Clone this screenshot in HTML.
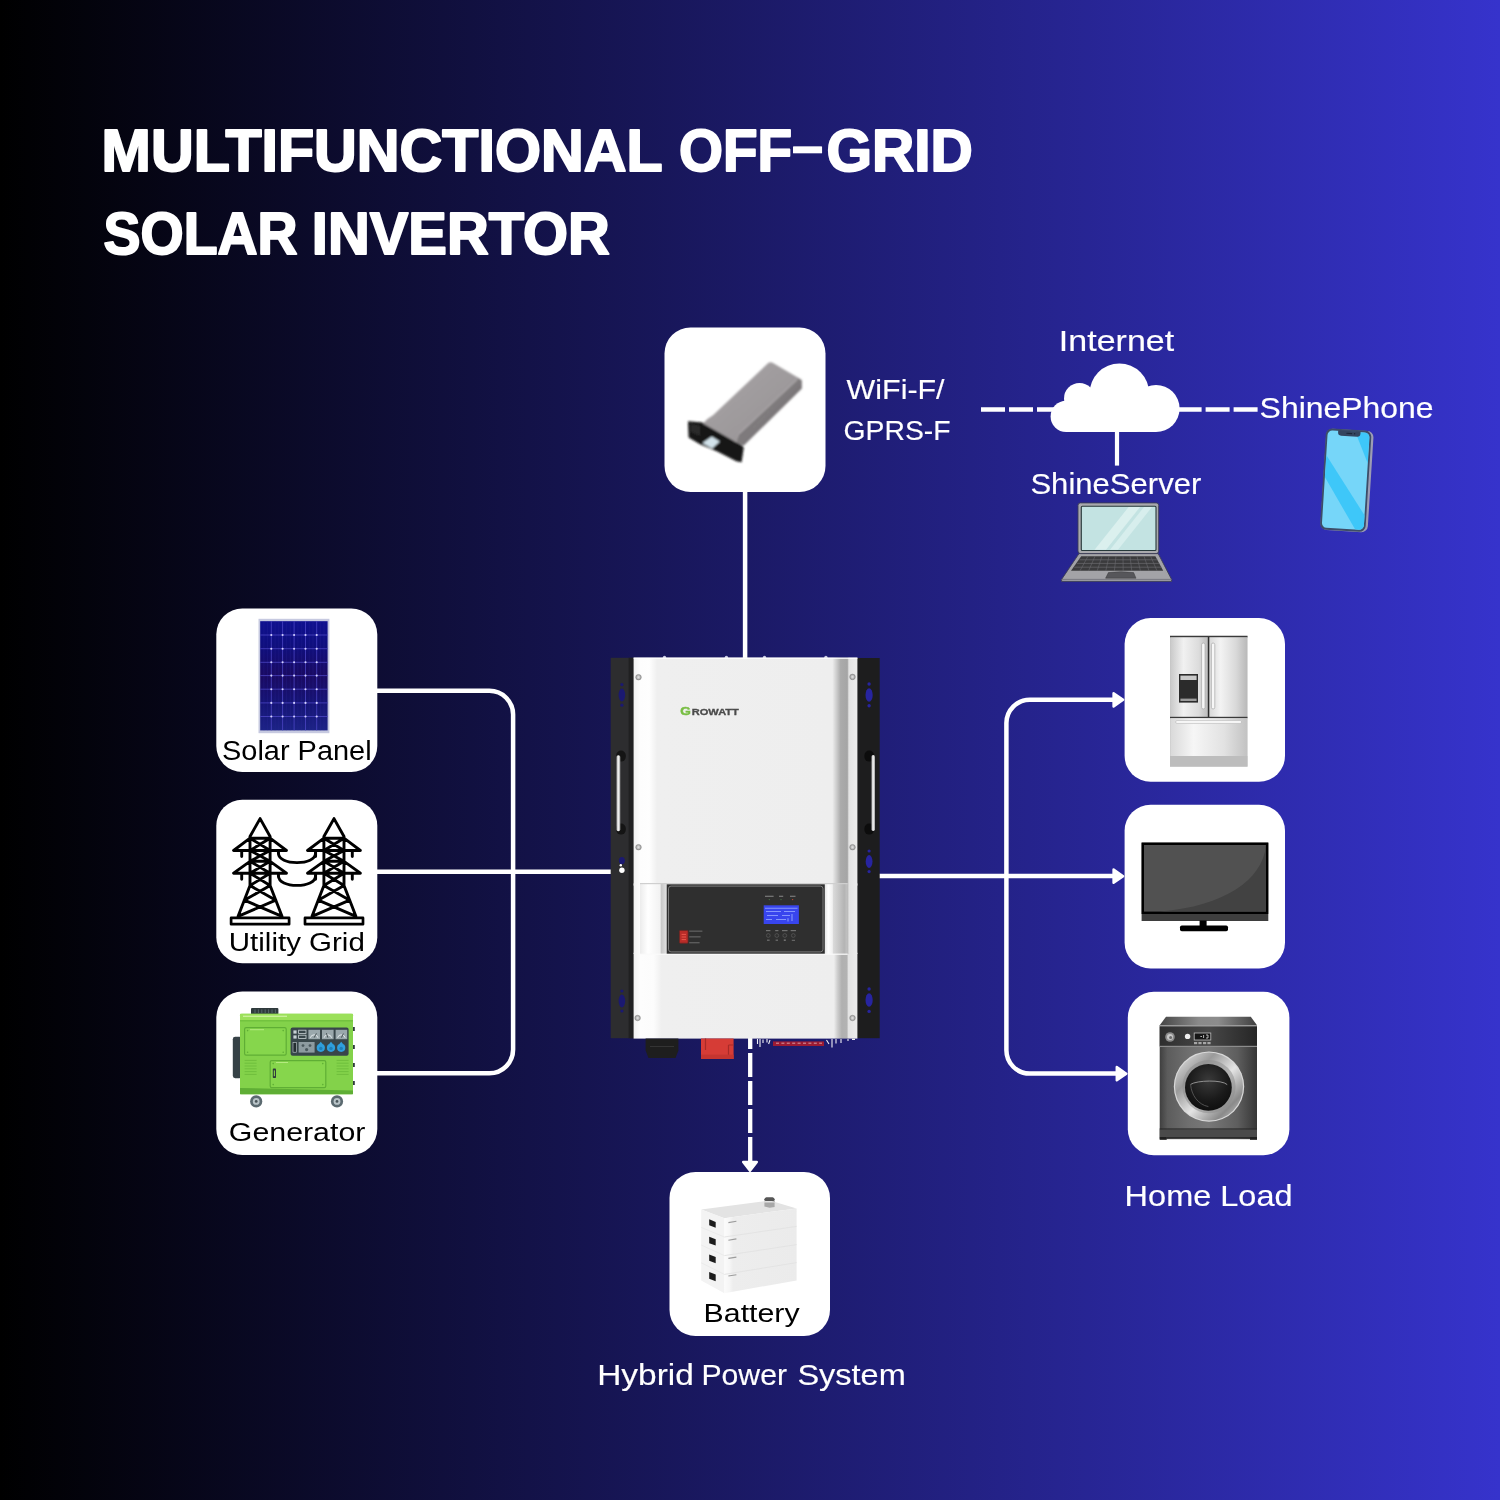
<!DOCTYPE html>
<html lang="en">
<head>
<meta charset="utf-8">
<title>Multifunctional Off-Grid Solar Invertor</title>
<style>
  html, body { margin: 0; padding: 0; }
  body { width: 1500px; height: 1500px; overflow: hidden; background: #1b1966; }
  #stage {
    position: relative; width: 1500px; height: 1500px; overflow: hidden;
    background: linear-gradient(90deg, #000000 0%, #3633cc 100%);
    font-family: "Liberation Sans", sans-serif;
  }
  svg { position: absolute; left: 0; top: 0; display: block; will-change: transform; }
  .h1 { font-family: "Liberation Sans", sans-serif; font-weight: 700; fill: #ffffff; stroke: #ffffff; stroke-width: 2; stroke-linejoin: round; }
  .lw { font-family: "Liberation Sans", sans-serif; font-weight: 400; fill: #ffffff; stroke: #ffffff; stroke-width: 0.15; }
  .lb { font-family: "Liberation Sans", sans-serif; font-weight: 400; fill: #000000;  }
  .ln { fill: none; stroke: #ffffff; stroke-width: 4.5; }
  .card { fill: #ffffff; }
</style>
</head>
<body>
<div id="stage">
<svg width="1500" height="1500" viewBox="0 0 1500 1500">

  <!-- ============ TITLE ============ -->
  <g id="title">
    <text class="h1" x="101.6" y="170.8" font-size="58.6" textLength="561" lengthAdjust="spacingAndGlyphs">MULTIFUNCTIONAL</text>
    <text class="h1" x="679" y="170.8" font-size="58.6" textLength="113" lengthAdjust="spacingAndGlyphs">OFF</text>
    <text class="h1" x="789.2" y="163.4" font-size="52" textLength="36.7" lengthAdjust="spacingAndGlyphs" style="stroke-width:0.5">-</text>
    <text class="h1" x="826.4" y="170.8" font-size="58.6" textLength="146.4" lengthAdjust="spacingAndGlyphs">GRID</text>
    <text class="h1" x="103.6" y="254.4" font-size="58.6" textLength="194" lengthAdjust="spacingAndGlyphs">SOLAR</text>
    <text class="h1" x="311.8" y="254.4" font-size="58.6" textLength="298" lengthAdjust="spacingAndGlyphs">INVERTOR</text>
  </g>

  <!-- ============ CONNECTOR LINES ============ -->
  <g id="lines">
    <!-- dongle to inverter -->
    <path class="ln" d="M745.1 490 V660"/>
    <!-- wifi dashed to cloud -->
    <path class="ln" d="M981 409.5 H1060" stroke-dasharray="24 4"/>
    <path class="ln" d="M1177.6 409.5 H1257.6" stroke-dasharray="24 4"/>
    <!-- cloud to server -->
    <path class="ln" d="M1117 425 V465.6" style="stroke-width:4.2"/>
    <!-- left bracket -->
    <path class="ln" d="M376 690.8 H489.4 A23.7 23.7 0 0 1 513.1 714.5 V1049.6 A23.7 23.7 0 0 1 489.4 1073.3 H376"/>
    <path class="ln" d="M376 871.8 H612"/>
    <!-- right bracket -->
    <path class="ln" d="M878 876.1 H1114"/>
    <path class="ln" d="M1114 699.7 H1029.8 A23.4 23.4 0 0 0 1006.4 723.1 V1050.2 A23.4 23.4 0 0 0 1029.8 1073.6 H1117"/>
    <!-- battery dashed -->
    <path class="ln" d="M750.2 1025 V1161" stroke-dasharray="24 4" style="stroke-width:4.3"/>
  </g>
  <g id="arrows" fill="#ffffff" stroke="#ffffff" stroke-width="2.5" stroke-linejoin="round">
    <path d="M1113.6 693.2 L1123.1 699.85 L1113.6 706.5 Z"/>
    <path d="M1113.6 869.5 L1123.1 876.15 L1113.6 882.8 Z"/>
    <path d="M1116.8 1067 L1126.3 1073.65 L1116.8 1080.3 Z"/>
    <path d="M743.2 1162 L750 1170.8 L756.8 1162 Z"/>
  </g>

  <!-- ============ CARDS ============ -->
  <g id="cards">
    <rect class="card" x="664.5" y="327.5" width="161" height="164.5" rx="26"/>
    <rect class="card" x="216.3" y="608.5" width="161" height="163.5" rx="26"/>
    <rect class="card" x="216.3" y="799.7" width="161" height="163.5" rx="26"/>
    <rect class="card" x="216.3" y="991.5" width="161" height="163.5" rx="26"/>
    <rect class="card" x="1124.6" y="618.1" width="160.4" height="163.7" rx="26"/>
    <rect class="card" x="1124.6" y="804.7" width="160.4" height="163.9" rx="26"/>
    <rect class="card" x="1127.8" y="991.8" width="161.6" height="163.4" rx="26"/>
    <rect class="card" x="669.5" y="1172" width="160.5" height="164" rx="26"/>
  </g>

  <!-- ============ ICONS (filled in below) ============ -->
  <g id="icon-dongle">
    <defs>
      <linearGradient id="gDonTop" x1="0" y1="0" x2="1" y2="1"><stop offset="0" stop-color="#a9a5a7"/><stop offset="0.6" stop-color="#9d999b"/><stop offset="1" stop-color="#928e90"/></linearGradient>
      <linearGradient id="gDonSide" x1="0" y1="0" x2="1" y2="1"><stop offset="0" stop-color="#6b6769"/><stop offset="0.5" stop-color="#7f7b7d"/><stop offset="1" stop-color="#565254"/></linearGradient>
      <filter id="fDon" x="-5%" y="-5%" width="110%" height="110%"><feGaussianBlur stdDeviation="0.85"/></filter>
    </defs>
    <g filter="url(#fDon)">
      <!-- flange -->
      <path d="M688 421.2L703 422.4L736.6 442.2Q741.6 444.4 743.8 447.6L741.6 462.2L736.4 461.2L717.3 451.4L700 444.2L688.6 437.6Z" fill="#141414"/>
      <path d="M690 424L700 425.6L700 436L690.6 432Z" fill="#2a2a2a"/>
      <!-- connector insert -->
      <path d="M702.4 442.9L711.8 436.6L719.8 441.6L712.2 448.4Z" fill="#d2e2ea"/>
      <!-- side face -->
      <path d="M797.7 377.6L801.9 380.2V388.6L743.6 445.8L736.6 442.6Q737 437 739.2 433.8Z" fill="url(#gDonSide)"/>
      <!-- top face -->
      <path d="M768.2 363Q770.6 361.6 773 363L797.7 377.6Q798.6 378.6 797.4 379.6L739.2 433.8Q737 437 736.6 442.6L703 423.6Q706.6 418.6 713 415.2Z" fill="url(#gDonTop)"/>
      <path d="M797.2 379.6L739.4 433.6" stroke="#bdb9bb" stroke-width="0.9" fill="none"/>
    </g>
  </g>
  <g id="icon-cloud" fill="#ffffff">
    <circle cx="1119.4" cy="393.4" r="29.8"/>
    <circle cx="1079.5" cy="398.5" r="15.5"/>
    <circle cx="1066.2" cy="416.4" r="15.6"/>
    <circle cx="1156" cy="408.5" r="23.6"/>
    <rect x="1066" y="400" width="90" height="32"/>
  </g>
  <g id="icon-laptop">
    <!-- lid -->
    <rect x="1078" y="502.9" width="80.7" height="50.6" rx="2.4" fill="#a9a9ad" stroke="#3b3d55" stroke-width="0.9"/>
    <rect x="1081.3" y="506.2" width="74.7" height="44.3" rx="1" fill="#c3e3e2" stroke="#27393a" stroke-width="1.1"/>
    <path d="M1128.6 507L1140 507L1106 549.8L1094.6 549.8Z" fill="#def1f0" opacity="0.9"/>
    <path d="M1144 507L1152 507L1118 549.8L1110 549.8Z" fill="#def1f0" opacity="0.75"/>
    <!-- base -->
    <path d="M1079 553.6H1158.2L1171.6 579.4V581.4H1061.6V579.4Z" fill="#a3a3a7" stroke="#3b3d55" stroke-width="0.9" stroke-linejoin="round"/>
    <path d="M1061.6 579.4H1171.6" stroke="#6f6f78" stroke-width="0.8"/>
    <!-- keyboard -->
    <path d="M1081.2 556.2H1155.4L1163.2 570.8H1071Z" fill="#3b3b3d"/>
    <path d="M1079.4 559.8H1157.4M1076.8 563.4H1159.4M1074.2 567.2H1161.4" stroke="#6a6a6e" stroke-width="0.7"/>
    <path d="M1088 556.2L1080 570.8M1095 556.2L1088.6 570.8M1102 556.2L1097.2 570.8M1109 556.2L1105.8 570.8M1116 556.2L1114.4 570.8M1123 556.2L1123.2 570.8M1130 556.2L1131.8 570.8M1137 556.2L1140.4 570.8M1144 556.2L1149 570.8M1150.6 556.2L1157 570.8" stroke="#6a6a6e" stroke-width="0.6"/>
    <!-- touchpad -->
    <path d="M1108.4 572.6Q1121 570.8 1133.6 572.6L1136 578.2H1105.6Z" fill="#56565a" stroke="#3b3b3d" stroke-width="0.5"/>
  </g>
  <g id="icon-phone" transform="translate(1346.3 480.3) rotate(3.6)">
    <rect x="-23" y="-50.6" width="47.4" height="101.4" rx="6.4" fill="#9c9cb4"/>
    <rect x="-23.4" y="-50.8" width="45.6" height="101.4" rx="6.2" fill="#3d4d68"/>
    <rect x="-21.6" y="-48.8" width="42" height="97.4" rx="4.8" fill="#76d6f9"/>
    <clipPath id="cpPhone"><rect x="-21.6" y="-48.8" width="42" height="97.4" rx="4.8"/></clipPath>
    <g clip-path="url(#cpPhone)">
      <path d="M-21.6 -24L-21.6 -2L12 48.6L22 48.6L22 36Z" fill="#3ec7f9"/>
      <path d="M6 -48.8L20.4 -48.8L20.4 -18Z" fill="#3ec7f9"/>
    </g>
    <path d="M-11.2 -49.4H11.2V-47.4Q11.2 -44.2 8 -44.2H-8Q-11.2 -44.2 -11.2 -47.4Z" fill="#34445e"/>
    <rect x="-3" y="-47.6" width="6" height="1.2" rx="0.6" fill="#1c2638"/>
    <circle cx="5.4" cy="-47" r="0.7" fill="#1c2638"/>
  </g>
  <g id="icon-solar">
    <defs><linearGradient id="gSolar" x1="0" y1="0" x2="0" y2="1"><stop offset="0" stop-color="#0f1090"/><stop offset="0.22" stop-color="#0f0f7e"/><stop offset="0.5" stop-color="#1a0a62"/><stop offset="0.75" stop-color="#151476"/><stop offset="1" stop-color="#1c2386"/></linearGradient></defs>
    <rect x="258.5" y="618.8" width="70.9" height="114.4" fill="#c6c9e0"/>
    <rect x="260.2" y="621.2" width="67.4" height="109.2" fill="url(#gSolar)"/>
    <path d="M263.9 621.2V730.4M267.6 621.2V730.4M275.1 621.2V730.4M278.8 621.2V730.4M286.4 621.2V730.4M290.3 621.2V730.4M297.9 621.2V730.4M301.7 621.2V730.4M309.2 621.2V730.4M313.0 621.2V730.4M320.3 621.2V730.4M324.0 621.2V730.4" stroke="#2f2a9c" stroke-width="0.5" opacity="0.5" fill="none"/>
    <path d="M271.3 621.2V730.4M282.6 621.2V730.4M294.1 621.2V730.4M305.5 621.2V730.4M316.7 621.2V730.4M260.2 635.0H327.6M260.2 648.7H327.6M260.2 662.3H327.6M260.2 675.6H327.6M260.2 689.2H327.6M260.2 702.9H327.6M260.2 716.5H327.6" stroke="#4d47c6" stroke-width="0.9" fill="none" opacity="0.85"/>
    <g fill="#d6d4ff"><circle cx="271.3" cy="635.0" r="1.05"/><circle cx="271.3" cy="648.7" r="1.05"/><circle cx="271.3" cy="662.3" r="1.05"/><circle cx="271.3" cy="675.6" r="1.05"/><circle cx="271.3" cy="689.2" r="1.05"/><circle cx="271.3" cy="702.9" r="1.05"/><circle cx="271.3" cy="716.5" r="1.05"/><circle cx="282.6" cy="635.0" r="1.05"/><circle cx="282.6" cy="648.7" r="1.05"/><circle cx="282.6" cy="662.3" r="1.05"/><circle cx="282.6" cy="675.6" r="1.05"/><circle cx="282.6" cy="689.2" r="1.05"/><circle cx="282.6" cy="702.9" r="1.05"/><circle cx="282.6" cy="716.5" r="1.05"/><circle cx="294.1" cy="635.0" r="1.05"/><circle cx="294.1" cy="648.7" r="1.05"/><circle cx="294.1" cy="662.3" r="1.05"/><circle cx="294.1" cy="675.6" r="1.05"/><circle cx="294.1" cy="689.2" r="1.05"/><circle cx="294.1" cy="702.9" r="1.05"/><circle cx="294.1" cy="716.5" r="1.05"/><circle cx="305.5" cy="635.0" r="1.05"/><circle cx="305.5" cy="648.7" r="1.05"/><circle cx="305.5" cy="662.3" r="1.05"/><circle cx="305.5" cy="675.6" r="1.05"/><circle cx="305.5" cy="689.2" r="1.05"/><circle cx="305.5" cy="702.9" r="1.05"/><circle cx="305.5" cy="716.5" r="1.05"/><circle cx="316.7" cy="635.0" r="1.05"/><circle cx="316.7" cy="648.7" r="1.05"/><circle cx="316.7" cy="662.3" r="1.05"/><circle cx="316.7" cy="675.6" r="1.05"/><circle cx="316.7" cy="689.2" r="1.05"/><circle cx="316.7" cy="702.9" r="1.05"/><circle cx="316.7" cy="716.5" r="1.05"/></g>
  </g>
  <g id="icon-towers" fill="none" stroke="#000000" stroke-width="2.9" stroke-linejoin="round" stroke-linecap="round">
    <path d="M250.0 885.6 L250.0 836.5 L260.1 818.6 L270.1 836.5 L270.1 885.6 M250.0 838.2 H270.1 M250.0 838.2 L233.6 850.5 H286.5 L270.1 838.2 M241.7 850.5 V856.5 M278.4 850.5 V853.5 M250.0 861.3 L233.6 873.2 H286.5 L270.1 861.3 M241.7 873.2 V879.2 M278.4 873.2 V876.2 M250.0 861.3 H270.1 M250.0 838.2 L270.1 850.5 M270.1 838.2 L250.0 850.5 M250.0 850.5 L270.1 861.3 M270.1 850.5 L250.0 861.3 M250.0 861.3 L270.1 873.2 M270.1 861.3 L250.0 873.2 M250.0 873.2 L270.1 885.6 M270.1 873.2 L250.0 885.6 M250.0 885.6 L238.1 916.3 M270.1 885.6 L282.0 916.3 M250.0 885.6 L275.8 900.2 M270.1 885.6 L244.3 900.2 M244.3 900.2 L282.0 916.3 M275.8 900.2 L238.1 916.3"/>
    <path d="M323.9 885.6 L323.9 836.5 L334.0 818.6 L344.0 836.5 L344.0 885.6 M323.9 838.2 H344.0 M323.9 838.2 L307.5 850.5 H360.4 L344.0 838.2 M315.6 850.5 V856.5 M352.3 850.5 V856.5 M323.9 861.3 L307.5 873.2 H360.4 L344.0 861.3 M315.6 873.2 V879.2 M352.3 873.2 V879.2 M323.9 861.3 H344.0 M323.9 838.2 L344.0 850.5 M344.0 838.2 L323.9 850.5 M323.9 850.5 L344.0 861.3 M344.0 850.5 L323.9 861.3 M323.9 861.3 L344.0 873.2 M344.0 861.3 L323.9 873.2 M323.9 873.2 L344.0 885.6 M344.0 873.2 L323.9 885.6 M323.9 885.6 L312.0 916.3 M344.0 885.6 L355.9 916.3 M323.9 885.6 L349.7 900.2 M344.0 885.6 L318.2 900.2 M318.2 900.2 L355.9 916.3 M349.7 900.2 L312.0 916.3"/>
    <path d="M278.4 853 C278.6 859.5 287 862.6 297 862.6 C307 862.6 315.4 859.5 315.6 853"/>
    <path d="M278.4 875.7 C278.6 882.2 287 885.4 297 885.4 C307 885.4 315.4 882.2 315.6 875.7"/>
    <rect x="231.1" y="917.9" width="58" height="6.3" fill="#ffffff" stroke-width="2.7"/>
    <rect x="305" y="917.9" width="58" height="6.3" fill="#ffffff" stroke-width="2.7"/>
  </g>
  <g id="icon-generator">
    <!-- exhaust cap -->
    <rect x="251" y="1008" width="27.4" height="6.4" rx="1" fill="#2f3a3c"/>
    <path d="M255 1009.4V1013M258.4 1009.4V1013M261.8 1009.4V1013M265.2 1009.4V1013M268.6 1009.4V1013M272 1009.4V1013M275.4 1009.4V1013" stroke="#55656a" stroke-width="1"/>
    <!-- side handle -->
    <rect x="232.8" y="1036.8" width="9" height="41.4" rx="2.4" fill="#364246"/>
    <!-- right side knobs -->
    <g fill="#2f3a3c"><rect x="352.4" y="1027" width="2.4" height="4"/><rect x="352.4" y="1045" width="2.4" height="4"/><rect x="352.4" y="1063" width="2.4" height="4"/><rect x="352.4" y="1081" width="2.4" height="4"/></g>
    <!-- wheels -->
    <g><circle cx="256.2" cy="1101.4" r="6.1" fill="#5b6a70"/><circle cx="256.2" cy="1101.4" r="3.4" fill="#b9c4c8"/><circle cx="256.2" cy="1101.4" r="1.4" fill="#4a565a"/>
       <circle cx="337" cy="1101.4" r="6.1" fill="#5b6a70"/><circle cx="337" cy="1101.4" r="3.4" fill="#b9c4c8"/><circle cx="337" cy="1101.4" r="1.4" fill="#4a565a"/></g>
    <!-- body -->
    <rect x="240" y="1013.8" width="113" height="80.4" rx="1.5" fill="#83d24a"/>
    <rect x="240" y="1013.8" width="113" height="6.4" fill="#9be05a"/>
    <rect x="243" y="1015.6" width="44" height="1.4" fill="#c9f09a"/>
    <rect x="240" y="1020.2" width="113" height="1.2" fill="#6fbf3c"/>
    <path d="M240 1088 L353 1090.5 V1094.2 H240 Z" fill="#5fae35"/>
    <!-- left panel -->
    <rect x="244.6" y="1027.6" width="41.6" height="27.6" rx="1.6" fill="#86d64c" stroke="#5fae35" stroke-width="1.2"/>
    <g fill="#5fae35"><circle cx="247.6" cy="1030.6" r="0.8"/><circle cx="283.2" cy="1030.6" r="0.8"/><circle cx="247.6" cy="1052.2" r="0.8"/><circle cx="283.2" cy="1052.2" r="0.8"/></g>
    <rect x="250" y="1029.2" width="14" height="1" fill="#b5ea80"/>
    <!-- control panel -->
    <rect x="290.6" y="1027.4" width="58" height="28.4" rx="2" fill="#38464a"/>
    <g fill="#c7d1d4"><rect x="293.4" y="1030.4" width="3.2" height="3.2"/><rect x="293.4" y="1035.4" width="3.2" height="3.2"/></g>
    <g fill="none" stroke="#c7d1d4" stroke-width="0.8"><rect x="298.6" y="1030.2" width="7.4" height="3.4"/><rect x="298.6" y="1035.2" width="7.4" height="3.4"/></g>
    <g fill="#9aa8ac"><rect x="308.4" y="1029.8" width="11.6" height="9.4"/><rect x="322" y="1029.8" width="11.6" height="9.4"/><rect x="335.6" y="1029.8" width="11.6" height="9.4"/></g>
    <g fill="none" stroke="#e9eef0" stroke-width="0.9"><path d="M310.4 1037.8A3.9 3.9 0 0 1 318 1037.8"/><path d="M324 1037.8A3.9 3.9 0 0 1 331.6 1037.8"/><path d="M337.6 1037.8A3.9 3.9 0 0 1 345.2 1037.8"/></g>
    <g stroke="#2f3a3c" stroke-width="0.8"><path d="M314.2 1037.6L316.4 1033.4"/><path d="M327.8 1037.6L326.4 1033.2"/><path d="M341.4 1037.6L343.4 1033.6"/></g>
    <rect x="293" y="1042.4" width="3.6" height="9.8" fill="#232d30" stroke="#c7d1d4" stroke-width="0.6"/>
    <rect x="298.6" y="1042" width="16" height="10.6" fill="#8d9ba0"/>
    <g fill="#4b595e"><circle cx="303" cy="1045.6" r="1.4"/><circle cx="310" cy="1045.6" r="1.4"/><circle cx="306.6" cy="1049.6" r="1.6"/></g>
    <g fill="#2f9fdc"><circle cx="320.8" cy="1047.8" r="4.1"/><circle cx="331" cy="1047.8" r="4.1"/><circle cx="341.2" cy="1047.8" r="4.1"/>
       <path d="M318.6 1044.6L320.8 1041.8L323 1044.6ZM328.8 1044.6L331 1041.8L333.2 1044.6ZM339 1044.6L341.2 1041.8L343.4 1044.6Z"/></g>
    <g fill="#1f7fb8"><circle cx="320.8" cy="1048.4" r="1.7"/><circle cx="331" cy="1048.4" r="1.7"/><circle cx="341.2" cy="1048.4" r="1.7"/></g>
    <!-- vents -->
    <path d="M244.6 1060.4H256.6M244.6 1063.2H256.6M244.6 1066H256.6M244.6 1068.8H256.6M244.6 1071.6H256.6M244.6 1074.4H256.6M336.6 1060.4H348.6M336.6 1063.2H348.6M336.6 1066H348.6M336.6 1068.8H348.6M336.6 1071.6H348.6M336.6 1074.4H348.6" stroke="#6fbf3c" stroke-width="1"/>
    <!-- lower door -->
    <rect x="270.2" y="1060.6" width="55.6" height="27" rx="1.6" fill="#86d64c" stroke="#5fae35" stroke-width="1.2"/>
    <g fill="#5fae35"><circle cx="273.2" cy="1063.6" r="0.8"/><circle cx="322.8" cy="1063.6" r="0.8"/><circle cx="273.2" cy="1084.6" r="0.8"/><circle cx="322.8" cy="1084.6" r="0.8"/></g>
    <rect x="276" y="1062" width="12" height="1" fill="#b5ea80"/>
    <rect x="272.8" y="1068.6" width="3.2" height="9.4" rx="0.8" fill="#2f3a3c"/>
    <rect x="273.8" y="1070.4" width="1.2" height="5.8" fill="#7fcf47"/>
  </g>
  <g id="icon-inverter">
    <defs>
      <linearGradient id="gInvBody" x1="633.6" y1="0" x2="857.4" y2="0" gradientUnits="userSpaceOnUse">
        <stop offset="0" stop-color="#f1f1f1"/><stop offset="0.03" stop-color="#fdfdfd"/><stop offset="0.07" stop-color="#fefefe"/><stop offset="0.105" stop-color="#efefef"/>
        <stop offset="0.888" stop-color="#eeeeee"/><stop offset="0.905" stop-color="#d0d0d0"/><stop offset="0.925" stop-color="#ababab"/><stop offset="0.955" stop-color="#a5a5a5"/><stop offset="0.962" stop-color="#e3e3e3"/><stop offset="1" stop-color="#ececec"/>
      </linearGradient>
      <linearGradient id="gInvLow" x1="633.6" y1="0" x2="857.4" y2="0" gradientUnits="userSpaceOnUse">
        <stop offset="0" stop-color="#f1f1f1"/><stop offset="0.03" stop-color="#fdfdfd"/><stop offset="0.09" stop-color="#fcfcfc"/><stop offset="0.125" stop-color="#efefef"/>
        <stop offset="0.895" stop-color="#eeeeee"/><stop offset="0.912" stop-color="#cccccc"/><stop offset="0.93" stop-color="#b0b0b0"/><stop offset="0.953" stop-color="#b2b2b2"/><stop offset="0.96" stop-color="#e3e3e3"/><stop offset="1" stop-color="#ececec"/>
      </linearGradient>
      <linearGradient id="gRecL" x1="640" y1="0" x2="666.7" y2="0" gradientUnits="userSpaceOnUse">
        <stop offset="0" stop-color="#ececec"/><stop offset="0.3" stop-color="#ffffff"/><stop offset="0.75" stop-color="#f2f2f2"/><stop offset="0.8" stop-color="#c9c9c9"/><stop offset="1" stop-color="#e2e2e2"/>
      </linearGradient>
      <linearGradient id="gRecR" x1="824.8" y1="0" x2="847.7" y2="0" gradientUnits="userSpaceOnUse">
        <stop offset="0" stop-color="#e6e6e6"/><stop offset="0.15" stop-color="#ffffff"/><stop offset="0.33" stop-color="#f0f0f0"/><stop offset="0.38" stop-color="#d9d9d9"/><stop offset="0.85" stop-color="#b4b4b4"/><stop offset="1" stop-color="#c4c4c4"/>
      </linearGradient>
      <linearGradient id="gHandle" x1="0" y1="0" x2="1" y2="0"><stop offset="0" stop-color="#8c8c8c"/><stop offset="0.45" stop-color="#ffffff"/><stop offset="1" stop-color="#9a9a9a"/></linearGradient>
      <radialGradient id="gScrew"><stop offset="0" stop-color="#e6e6e6"/><stop offset="0.55" stop-color="#bdbdbd"/><stop offset="1" stop-color="#8a8a8a"/></radialGradient>
    </defs>
    <!-- mounting brackets -->
    <rect x="610.7" y="657.8" width="24" height="380.4" fill="#2d2d2f"/>
    <rect x="628.6" y="657.8" width="6" height="380.4" fill="#202021"/>
    <rect x="856.6" y="658" width="23.1" height="380.2" fill="#1d1d1e"/>
    <!-- slots showing the background through the brackets -->
    <g fill="#1b1971">
      <circle cx="621.9" cy="684.6" r="1.6"/><ellipse cx="621.9" cy="695" rx="3.3" ry="6.4"/><circle cx="621.9" cy="705.2" r="1.6"/>
      <ellipse cx="621.9" cy="860.6" rx="3" ry="3.6"/>
      <circle cx="621.9" cy="991" r="1.6"/><ellipse cx="621.9" cy="1001" rx="3.3" ry="6.4"/><circle cx="621.9" cy="1011" r="1.6"/>
    </g>
    <g fill="#2724a0">
      <circle cx="869.1" cy="684" r="1.7"/><ellipse cx="869.1" cy="695" rx="3.6" ry="6.8"/><circle cx="869.1" cy="705.8" r="1.7"/>
      <circle cx="869.1" cy="851" r="1.6"/><ellipse cx="869.1" cy="861.5" rx="3.4" ry="6.4"/><circle cx="869.1" cy="871.6" r="1.6"/>
      <circle cx="869.1" cy="989" r="1.7"/><ellipse cx="869.1" cy="1000" rx="3.6" ry="6.8"/><circle cx="869.1" cy="1011.4" r="1.7"/>
    </g>
    <circle cx="621.9" cy="870.2" r="2.7" fill="#ffffff"/>
    <circle cx="620.8" cy="865.2" r="1.2" fill="#ffffff"/>
    <!-- handles -->
    <rect x="616.2" y="750.6" width="9.6" height="11" rx="4.8" fill="#141414"/>
    <rect x="616.2" y="823.6" width="9.6" height="11" rx="4.8" fill="#141414"/>
    <rect x="616.4" y="755.2" width="3.9" height="76" rx="1.9" fill="url(#gHandle)"/>
    <rect x="864.4" y="750.6" width="9.6" height="11" rx="4.8" fill="#0c0c0c"/>
    <rect x="864.4" y="823.6" width="9.6" height="11" rx="4.8" fill="#0c0c0c"/>
    <rect x="871.4" y="755" width="3.6" height="76" rx="1.8" fill="url(#gHandle)"/>
    <!-- top studs -->
    <g fill="#c9cbe6"><circle cx="664.5" cy="657.4" r="1.7"/><circle cx="726.4" cy="657.4" r="1.7"/><circle cx="764.5" cy="657.4" r="1.7"/><circle cx="825.9" cy="657.4" r="1.7"/></g>
    <!-- body -->
    <rect x="633.6" y="657.6" width="223.8" height="228" fill="url(#gInvBody)"/>
    <rect x="633.6" y="657.6" width="223.8" height="1.3" fill="#ffffff" opacity="0.9"/>
    <rect x="633.6" y="952.8" width="223.8" height="85.8" fill="url(#gInvLow)"/>
    <!-- display recess -->
    <rect x="633.6" y="883.4" width="223.8" height="70.6" fill="url(#gInvBody)"/>
    <rect x="640" y="883.4" width="26.7" height="70.6" fill="url(#gRecL)"/>
    <rect x="824.8" y="883.4" width="22.9" height="70.6" fill="url(#gRecR)"/>
    <rect x="640" y="883" width="207.7" height="1.2" fill="#cfcfcf"/>
    <rect x="640" y="953.6" width="207.7" height="1.2" fill="#fafafa"/>
    <rect x="666.7" y="884.3" width="158.1" height="69.4" fill="#2f2f2f"/>
    <rect x="668.5" y="886.1" width="154.5" height="65.8" rx="2.6" fill="none" stroke="#9c9c9c" stroke-width="0.7"/>
    <!-- LCD -->
    <rect x="763.7" y="905.3" width="35.2" height="18.7" fill="#3845ee"/>
    <path d="M765 908.2H797.5M766 911.5H781M784 911.5H795M767 915.5H778M782 915.5H790M792 914V921M766 919.5H772M776 919.5H786M788 918.2V921.6" stroke="#93a4ff" stroke-width="1.1" fill="none" opacity="0.85"/>
    <!-- indicator legends -->
    <g fill="#9a9a9a" opacity="0.7"><rect x="765" y="895.7" width="8.6" height="1.2"/><rect x="779" y="895.7" width="4.2" height="1.2"/><rect x="790" y="895.7" width="5.5" height="1.2"/></g>
    <circle cx="769.3" cy="899.6" r="0.6" fill="#4a7a4a"/><circle cx="781" cy="899.6" r="0.6" fill="#4a7a4a"/><circle cx="792.6" cy="899.6" r="0.7" fill="#c4452c"/>
    <g fill="#8e8e8e" opacity="0.7"><rect x="766" y="930" width="4.4" height="1.2"/><rect x="775.2" y="930" width="3.2" height="1.2"/><rect x="782" y="930" width="5.5" height="1.2"/><rect x="790.7" y="930" width="5.3" height="1.2"/>
      <rect x="767" y="939.6" width="2.6" height="1.2"/><rect x="775.6" y="939.6" width="2.4" height="1.2"/><rect x="783.8" y="939.4" width="2" height="1.6"/><rect x="791.8" y="939.8" width="3.2" height="1"/></g>
    <g fill="#303030" stroke="#5c5c5c" stroke-width="0.7"><circle cx="768.3" cy="935.5" r="1.9"/><circle cx="776.8" cy="935.5" r="1.9"/><circle cx="784.8" cy="935.5" r="1.9"/><circle cx="793.3" cy="935.5" r="1.9"/></g>
    <!-- red rocker switch -->
    <rect x="679.5" y="930.4" width="8.5" height="12.8" rx="0.8" fill="#b92c28" stroke="#6e2623" stroke-width="0.8"/>
    <path d="M681.6 934.4H686M681.6 937H686M681.6 939.6H686" stroke="#ef5a4e" stroke-width="0.9"/>
    <g fill="#8e8e8e" opacity="0.6"><rect x="689.2" y="930.6" width="13.2" height="1.1"/><rect x="689.2" y="936.3" width="11.4" height="1.1"/><rect x="689.2" y="942.2" width="10.4" height="1.1"/></g>
    <!-- logo -->
    <text x="680.2" y="715" font-family="'Liberation Sans', sans-serif" font-weight="700" font-size="11.6" fill="#78be43" stroke="#78be43" stroke-width="0.5" textLength="10.6" lengthAdjust="spacingAndGlyphs">G</text>
    <text x="691.8" y="714.8" font-family="'Liberation Sans', sans-serif" font-weight="700" font-size="8.3" fill="#4b4b4b" stroke="#4b4b4b" stroke-width="0.3" textLength="47" lengthAdjust="spacingAndGlyphs">ROWATT</text>
    <!-- screws -->
    <g fill="url(#gScrew)" stroke="#8f8f8f" stroke-width="0.5"><circle cx="638.5" cy="677.2" r="2.8"/><circle cx="852.5" cy="676.9" r="2.8"/><circle cx="638.5" cy="847.2" r="2.8"/><circle cx="852.5" cy="847.2" r="2.8"/><circle cx="637.6" cy="1018" r="2.8"/><circle cx="852.5" cy="1018" r="2.8"/></g>
    <!-- bottom connectors -->
    <path d="M645.6 1038.4H678.4V1050.5L675.5 1058H648.5L645.6 1050.5Z" fill="#1e1e1e"/>
    <path d="M650 1046.5H674" stroke="#343434" stroke-width="1"/>
    <path d="M701 1038.4H733.6V1059H701Z" fill="#d63c36"/>
    <path d="M705.5 1038.4V1050M728.5 1045V1059M728.5 1045H733.6" stroke="#a82a27" stroke-width="1.2" fill="none"/>
    <rect x="701" y="1054.6" width="32.6" height="4.4" fill="#c53530"/>
    <rect x="773" y="1041.4" width="51" height="4.6" fill="#9c1b33"/>
    <path d="M757.5 1039V1044M760 1039V1047M763 1039.5V1043M767 1039V1042.5M770 1040L768.6 1044M826.5 1040L829 1044M832 1039V1047.5M836 1039V1043.5M841 1039V1043M848 1039V1041M852 1039.4H855" stroke="#f0f0f6" stroke-width="1.1" fill="none"/>
    <path d="M776 1043.2H822" stroke="#ffffff" stroke-width="0.7" stroke-dasharray="3 2.4" opacity="0.8"/>
  </g>
  <g id="icon-fridge">
    <defs>
      <linearGradient id="gFrL" x1="0" y1="0" x2="1" y2="0"><stop offset="0" stop-color="#c9c9c9"/><stop offset="0.35" stop-color="#f1f1f1"/><stop offset="0.75" stop-color="#dcdcdc"/><stop offset="1" stop-color="#bcbcbc"/></linearGradient>
      <linearGradient id="gFrR" x1="0" y1="0" x2="1" y2="0"><stop offset="0" stop-color="#d8d8d8"/><stop offset="0.3" stop-color="#f3f3f3"/><stop offset="0.7" stop-color="#d9d9d9"/><stop offset="1" stop-color="#b9b9b9"/></linearGradient>
      <linearGradient id="gFrD" x1="0" y1="0" x2="1" y2="0"><stop offset="0" stop-color="#d9d9d9"/><stop offset="0.3" stop-color="#f6f6f6"/><stop offset="0.7" stop-color="#e2e2e2"/><stop offset="1" stop-color="#c2c2c2"/></linearGradient>
    </defs>
    <rect x="1170" y="635.8" width="77.5" height="130.8" fill="#c4c4c4"/>
    <rect x="1170" y="635.8" width="77.5" height="1.6" fill="#3a3a3a"/>
    <rect x="1170.4" y="637.4" width="37.6" height="79.6" fill="url(#gFrL)"/>
    <rect x="1209.2" y="637.4" width="38" height="79.6" fill="url(#gFrR)"/>
    <rect x="1207.8" y="637" width="1.5" height="80.5" fill="#2c2c2c"/>
    <rect x="1170" y="716.8" width="77.5" height="1.4" fill="#3a3a3a"/>
    <rect x="1201.6" y="643" width="3.4" height="66" rx="1.7" fill="#f7f7f7" stroke="#a9a9a9" stroke-width="0.7"/>
    <rect x="1211.4" y="643" width="3.4" height="66" rx="1.7" fill="#f7f7f7" stroke="#a9a9a9" stroke-width="0.7"/>
    <rect x="1179" y="674" width="19" height="28.6" fill="#2b2b2b"/>
    <rect x="1180.4" y="675.6" width="16.2" height="4.4" fill="#c9c9c9"/>
    <rect x="1180.4" y="698.6" width="16.2" height="2.4" fill="#9b9b9b"/>
    <rect x="1170.4" y="718.2" width="76.8" height="38" fill="url(#gFrD)"/>
    <rect x="1175.6" y="720.6" width="66" height="2.8" rx="1.4" fill="#fafafa" stroke="#b4b4b4" stroke-width="0.6"/>
    <rect x="1170" y="756" width="77.5" height="10.6" fill="#bdbdbd"/>
  </g>
  <g id="icon-tv">
    <rect x="1141.6" y="842.6" width="126.7" height="78.4" fill="#3e3e3e"/>
    <rect x="1142.8" y="843.8" width="124.3" height="69" fill="#515151" stroke="#000000" stroke-width="2.4"/>
    <path d="M1266 846 C1262 880 1225 906 1160 911.6 L1266 911.6 Z" fill="#424242"/>
    <rect x="1199.6" y="920.5" width="7" height="6" fill="#000000"/>
    <rect x="1180" y="925.4" width="48" height="5.8" rx="1.8" fill="#000000"/>
  </g>
  <g id="icon-washer">
    <defs>
      <linearGradient id="gWaBody" x1="0" y1="0" x2="1" y2="0"><stop offset="0" stop-color="#3f3f3f"/><stop offset="0.08" stop-color="#5c5c5c"/><stop offset="0.3" stop-color="#6f6f6f"/><stop offset="0.5" stop-color="#787878"/><stop offset="0.8" stop-color="#5e5e5e"/><stop offset="1" stop-color="#363636"/></linearGradient>
      <linearGradient id="gWaTop" x1="0" y1="0" x2="1" y2="0"><stop offset="0" stop-color="#454545"/><stop offset="0.4" stop-color="#8a8a8a"/><stop offset="0.6" stop-color="#8c8c8c"/><stop offset="1" stop-color="#3f3f3f"/></linearGradient>
      <linearGradient id="gWaPanel" x1="0" y1="0" x2="1" y2="0"><stop offset="0" stop-color="#2e2e2e"/><stop offset="0.5" stop-color="#474747"/><stop offset="1" stop-color="#262626"/></linearGradient>
      <linearGradient id="gWaRing" x1="0" y1="0" x2="1" y2="1"><stop offset="0" stop-color="#efefef"/><stop offset="0.3" stop-color="#9a9a9a"/><stop offset="0.55" stop-color="#e4e4e4"/><stop offset="0.8" stop-color="#8a8a8a"/><stop offset="1" stop-color="#d8d8d8"/></linearGradient>
      <radialGradient id="gWaGlass" cx="0.5" cy="0.35" r="0.7"><stop offset="0" stop-color="#3a3a3a"/><stop offset="0.6" stop-color="#1a1a1a"/><stop offset="1" stop-color="#0c0c0c"/></radialGradient>
    </defs>
    <path d="M1166 1016.8H1250.8L1257 1025.2H1159.7Z" fill="url(#gWaTop)"/>
    <rect x="1159.7" y="1025" width="97.3" height="114.2" fill="url(#gWaBody)"/>
    <rect x="1159.7" y="1025" width="97.3" height="1.6" fill="#9b9b9b"/>
    <rect x="1159.7" y="1026.6" width="97.3" height="19.4" fill="url(#gWaPanel)"/>
    <rect x="1159.7" y="1045.8" width="97.3" height="1.2" fill="#8c8c8c"/>
    <rect x="1159.7" y="1128.4" width="97.3" height="1.3" fill="#2a2a2a"/>
    <rect x="1159.7" y="1129.7" width="97.3" height="7.6" fill="#4a4a4a"/>
    <rect x="1159.7" y="1137" width="7" height="2.8" fill="#1f1f1f"/><rect x="1250" y="1137" width="7" height="2.8" fill="#1f1f1f"/>
    <rect x="1166.7" y="1137" width="83.3" height="1.6" fill="#2a2a2a"/>
    <!-- dial + button + display -->
    <circle cx="1170" cy="1037" r="4.8" fill="#8c8c8c"/><circle cx="1170" cy="1037" r="3" fill="#c9c9c9"/><circle cx="1170.6" cy="1037.6" r="1.5" fill="#6c6c6c"/>
    <circle cx="1187.6" cy="1036.4" r="2.7" fill="#f0f0f0"/>
    <rect x="1194.2" y="1033" width="16.6" height="7" fill="#161616" stroke="#bdbdbd" stroke-width="0.8"/>
    <path d="M1200.4 1036.5H1202M1203.6 1035V1038M1206 1035H1208V1038H1206" stroke="#dedede" stroke-width="0.8" fill="none"/>
    <g fill="#a6a6a6"><rect x="1194" y="1042" width="3.2" height="2.2"/><rect x="1198.4" y="1042" width="3.2" height="2.2"/><rect x="1203" y="1042" width="3.2" height="2.2"/><rect x="1207.4" y="1042" width="3.2" height="2.2"/></g>
    <!-- door -->
    <circle cx="1209" cy="1086.6" r="35.2" fill="#d9d9d9"/>
    <circle cx="1209" cy="1086.6" r="34" fill="url(#gWaRing)"/>
    <circle cx="1209" cy="1086.6" r="26.6" fill="#8e8e8e" opacity="0.55"/>
    <circle cx="1208.4" cy="1087.4" r="23.4" fill="url(#gWaGlass)"/>
    <path d="M1190.6 1084.4C1197 1080.2 1222 1079.6 1227.2 1084.6" stroke="#9c9c9c" stroke-width="0.9" fill="none"/>
    <path d="M1190.6 1084.4C1191.4 1095 1198 1104.6 1208.4 1106.6" stroke="#6a6a6a" stroke-width="0.7" fill="none"/>
  </g>
  <g id="icon-battery">
    <defs>
      <linearGradient id="gBatF" x1="724.4" y1="0" x2="797" y2="0" gradientUnits="userSpaceOnUse"><stop offset="0" stop-color="#fbfbfb"/><stop offset="0.07" stop-color="#f6f6f6"/><stop offset="0.12" stop-color="#ededed"/><stop offset="1" stop-color="#ebebeb"/></linearGradient>
      <filter id="fBat" x="-5%" y="-5%" width="110%" height="110%"><feGaussianBlur stdDeviation="0.45"/></filter>
    </defs>
    <g filter="url(#fBat)">
    <!-- connector on top -->
    <rect x="764.2" y="1198.6" width="10.6" height="7.6" rx="2.2" fill="#a8a8a8"/>
    <rect x="764.6" y="1197.4" width="9.8" height="3.6" rx="1.8" fill="#565656"/>
    <!-- top face -->
    <path d="M701.2 1209.6L770 1200.4L796.6 1208.4L724.4 1218.2Z" fill="#e3e3e3"/>
    <path d="M764.4 1202.6h10.2v4.4l-5 0.8l-5.2-1.4z" fill="#a8a8a8"/>
    <rect x="764.6" y="1197.4" width="9.8" height="3.6" rx="1.8" fill="#565656"/>
    <!-- left face -->
    <path d="M701.2 1209.6L724.4 1218.2V1293.2L701.2 1280.6Z" fill="#f3f3f3"/>
    <!-- front face -->
    <path d="M724.4 1218.2L796.6 1208.4V1280.4L724.4 1293.2Z" fill="url(#gBatF)"/>
    <!-- module seams -->
    <path d="M724.4 1237L796.6 1226.4M724.4 1255.6L796.6 1244.6M724.4 1274.4L796.6 1262.6" stroke="#e2e2e2" stroke-width="0.9" fill="none"/>
    <path d="M701.2 1227.4L724.4 1237M701.2 1245L724.4 1255.6M701.2 1262.8L724.4 1274.4" stroke="#e8e8e8" stroke-width="0.8" fill="none"/>
    <!-- logos -->
    <path d="M728.4 1222.6L736.4 1221.3M728.4 1240.2L736.4 1238.9M728.4 1258.4L736.4 1257.1M728.4 1276L736.4 1274.7" stroke="#9c9c9c" stroke-width="1.1"/>
    <!-- ports -->
    <g fill="#1c1c1c">
      <path d="M709.2 1219.2L715.7 1222V1227.7L709.2 1225.2Z"/>
      <path d="M709.2 1236.8L715.7 1239.3V1245.6L709.2 1243.2Z"/>
      <path d="M709.2 1254.4L715.7 1256.9V1263.2L709.2 1260.8Z"/>
      <path d="M709.2 1272L715.7 1274.5V1281.2L709.2 1278.8Z"/>
    </g>
    </g>
  </g>

  <!-- ============ LABELS ============ -->
  <g id="labels">
    <text class="lw" x="846.6" y="398.7" font-size="28.4" textLength="98" lengthAdjust="spacingAndGlyphs">WiFi-F/</text>
    <text class="lw" x="843.6" y="440" font-size="28.4" textLength="107" lengthAdjust="spacingAndGlyphs">GPRS-F</text>
    <text class="lw" x="1058.8" y="350.8" font-size="29.6" textLength="115.4" lengthAdjust="spacingAndGlyphs">Internet</text>
    <text class="lw" x="1259.6" y="418.3" font-size="29.6" textLength="174" lengthAdjust="spacingAndGlyphs">ShinePhone</text>
    <text class="lw" x="1030.4" y="494" font-size="29.6" textLength="171" lengthAdjust="spacingAndGlyphs">ShineServer</text>
    <text class="lw" x="1124.6" y="1205.8" font-size="29.6" textLength="168" lengthAdjust="spacingAndGlyphs">Home Load</text>
    <text class="lw" x="597.2" y="1384.6" font-size="29.6" textLength="96.6" lengthAdjust="spacingAndGlyphs">Hybrid</text>
    <text class="lw" x="701.4" y="1384.6" font-size="29.6" textLength="85.6" lengthAdjust="spacingAndGlyphs">Power</text>
    <text class="lw" x="797.4" y="1384.6" font-size="29.6" textLength="108.4" lengthAdjust="spacingAndGlyphs">System</text>
    <text class="lb" x="222" y="759.8" font-size="27" textLength="149.6" lengthAdjust="spacingAndGlyphs">Solar Panel</text>
    <text class="lb" x="228.8" y="950.5" font-size="26.6" textLength="136" lengthAdjust="spacingAndGlyphs">Utility Grid</text>
    <text class="lb" x="228.8" y="1140.5" font-size="26.6" textLength="136.6" lengthAdjust="spacingAndGlyphs">Generator</text>
    <text class="lb" x="703.6" y="1321.8" font-size="26.2" textLength="96" lengthAdjust="spacingAndGlyphs">Battery</text>
  </g>
</svg>
</div>
</body>
</html>
